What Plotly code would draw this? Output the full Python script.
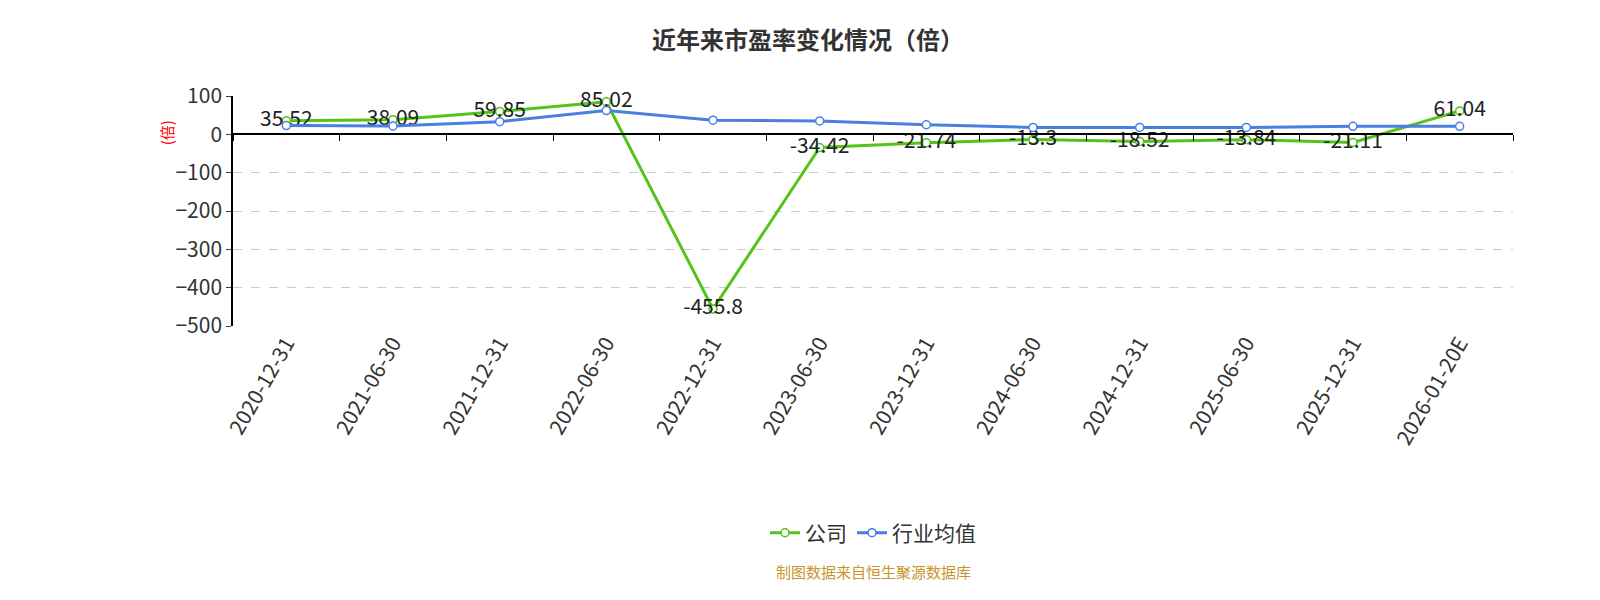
import plotly.graph_objects as go

dates = ["2020-12-31", "2021-06-30", "2021-12-31", "2022-06-30", "2022-12-31", "2023-06-30",
         "2023-12-31", "2024-06-30", "2024-12-31", "2025-06-30", "2025-12-31", "2026-01-20E"]
company = [35.52, 38.09, 59.85, 85.02, -455.8, -34.42, -21.74, -13.3, -18.52, -13.84, -21.11, 61.04]
industry = [23, 22, 33, 62, 37, 35, 25, 18, 18, 18, 21, 21]
company_labels = [str(v) for v in company]

fig = go.Figure()
fig.add_trace(go.Scatter(x=dates, y=company, name="公司", mode="lines+markers+text",
                         text=company_labels, textposition="middle center", cliponaxis=False,
                         textfont=dict(size=21, color="#222"),
                         line=dict(color="#52c41a", width=3),
                         marker=dict(size=8, color="white", line=dict(color="#52c41a", width=1.5))))
fig.add_trace(go.Scatter(x=dates, y=industry, name="行业均值", mode="lines+markers",
                         line=dict(color="#4a7fe0", width=3),
                         marker=dict(size=8, color="white", line=dict(color="#4a7fe0", width=1.5))))

# category axis drawn along the zero line
fig.add_trace(go.Scatter(x=dates, y=[None]*len(dates), xaxis="x2", showlegend=False, hoverinfo="skip"))

fig.update_layout(
    width=1600, height=600,
    paper_bgcolor="white", plot_bgcolor="white",
    font=dict(family="Noto Sans CJK SC, Noto Sans", color="#333"),
    title=dict(text="<b>近年来市盈率变化情况（倍）</b>", x=0.5, y=0.96, xanchor="center",
               font=dict(size=24, color="#333")),
    margin=dict(l=225, r=95, t=88, b=282),
    xaxis=dict(type="category", showline=False, ticks="", tickangle=-60,
               tickfont=dict(size=21, color="#333"), range=[-0.5, 11.5]),
    xaxis2=dict(type="category", overlaying="x", anchor="free", position=5/6,
                showline=True, linecolor="black", linewidth=1.5, ticks="outside",
                tickson="boundaries", ticklen=6, tickcolor="black",
                showticklabels=False, range=[-0.5, 11.5], showgrid=False),
    yaxis=dict(range=[-500, 100], dtick=100, showline=True, linecolor="black", linewidth=1.5,
               ticks="outside", ticklen=5, gridcolor="#ccc", griddash="dash", zeroline=False,
               tickfont=dict(size=21, color="#333")),
    legend=dict(orientation="h", x=0.5, xanchor="center", y=-0.90, yanchor="middle",
                font=dict(size=21, color="#333")),
    annotations=[
        dict(text="制图数据来自恒生聚源数据库", x=0.5, xanchor="center", y=-1.12,
             yref="paper", xref="paper", showarrow=False,
             font=dict(size=15, color="#c8952c")),
        dict(text="(倍)", textangle=-90, x=-0.052, xanchor="center", y=0.84, yanchor="middle",
             xref="paper", yref="paper", showarrow=False, font=dict(size=15, color="red")),
    ],
)

fig.write_html("out.html")
